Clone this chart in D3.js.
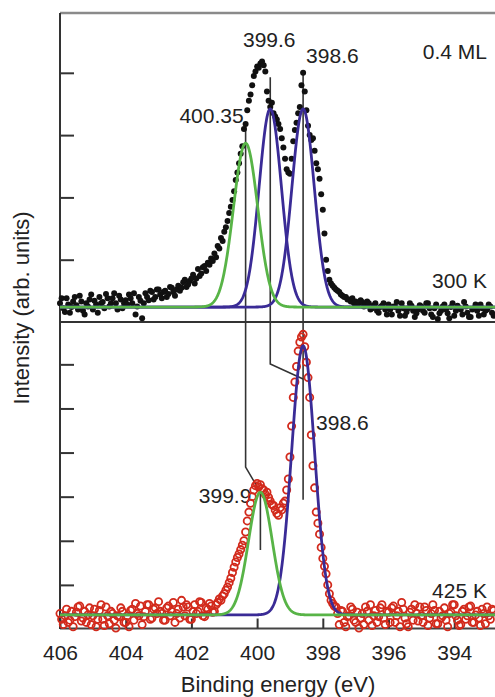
<!DOCTYPE html>
<html>
<head>
<meta charset="utf-8">
<script src="https://cdn.jsdelivr.net/npm/d3@7"></script>
<style>
  html, body { margin: 0; padding: 0; background: #fff; }
  svg { display: block; }
  text { font-family: "Liberation Sans", Arial, sans-serif; fill: #222; }
</style>
</head>
<body>
<script>
// N 1s photoemission spectra, energy grid 406.00 -> 392.80 eV in 0.05 eV steps
const energyStart = 406.0;
const energyStep = 0.05;

// 300 K spectrum (intensity, arb. units), one row per eV
const spectrum300K = [
  0.30, 0.38, 0.22, 0.16, 0.38, 0.28, 0.15, 0.24, 0.33, 0.40, 0.27, 0.20, 0.42, 0.33, 0.18, 0.12, 0.30, 0.25, 0.36, 0.44, // 406
  0.20, 0.34, 0.28, 0.15, 0.40, 0.30, 0.32, 0.22, 0.45, 0.38, 0.25, 0.30, 0.38, 0.46, 0.30, 0.20, 0.42, 0.36, 0.22, 0.30, // 405
  0.35, 0.28, 0.44, 0.38, 0.30, 0.46, 0.12, 0.25, 0.40, 0.34, 0.06, 0.30, 0.46, 0.40, 0.35, 0.50, 0.48, 0.36, 0.40, 0.52, // 404
  0.52, 0.44, 0.38, 0.48, 0.50, 0.40, 0.45, 0.56, 0.55, 0.48, 0.42, 0.52, 0.58, 0.50, 0.55, 0.64, 0.68, 0.56, 0.60, 0.66, // 403
  0.70, 0.76, 0.62, 0.70, 0.85, 0.74, 0.78, 0.88, 0.90, 0.82, 0.95, 0.92, 1.02, 0.98, 1.10, 1.04, 1.22, 1.18, 1.35, 1.30, // 402
  1.45, 1.52, 1.62, 1.75, 1.85, 1.96, 2.10, 2.28, 2.40, 2.55, 2.70, 2.82, 3.10, 3.18, 3.40, 3.55, 3.65, 3.80, 3.95, 4.02, // 401
  4.10, 4.08, 4.15, 4.18, 4.12, 4.02, 3.70, 3.55, 3.45, 3.52, 3.35, 3.30, 3.25, 3.18, 3.10, 2.95, 2.80, 2.62, 2.45, 2.40, // 400
  2.38, 2.62, 2.90, 3.08, 3.20, 3.35, 3.45, 3.80, 4.00, 3.70, 3.40, 3.15, 3.00, 2.92, 2.95, 2.75, 2.55, 2.45, 2.30, 2.05, // 399
  1.80, 1.42, 1.00, 0.82, 0.68, 0.62, 0.58, 0.55, 0.52, 0.50, 0.48, 0.44, 0.42, 0.40, 0.40, 0.36, 0.36, 0.33, 0.38, 0.30, // 398
  0.33, 0.28, 0.30, 0.35, 0.32, 0.25, 0.28, 0.33, 0.30, 0.20, 0.22, 0.27, 0.30, 0.18, 0.15, 0.24, 0.26, 0.30, 0.20, 0.12, // 397
  0.28, 0.20, 0.12, 0.25, 0.24, 0.32, 0.18, 0.10, 0.30, 0.22, 0.10, 0.16, 0.22, 0.30, 0.26, 0.18, 0.08, 0.14, 0.20, 0.27, // 396
  0.25, 0.18, 0.15, 0.30, 0.30, 0.22, 0.12, 0.08, 0.22, 0.28, 0.05, 0.14, 0.18, 0.25, 0.28, 0.20, 0.14, 0.06, 0.24, 0.30, // 395
  0.10, 0.18, 0.26, 0.22, 0.20, 0.12, 0.32, 0.25, 0.15, 0.08, 0.08, 0.20, 0.22, 0.28, 0.18, 0.10, 0.28, 0.22, 0.12, 0.18, // 394
  0.20, 0.28, 0.25, 0.15, 0.10                                                                                            // 393
];

// 425 K spectrum (intensity, arb. units), one row per eV
const spectrum425K = [
  0.35, 0.22, 0.10, 0.30, 0.45, 0.15, 0.20, 0.40, 0.05, 0.28, 0.38, 0.50, 0.52, 0.18, 0.25, 0.40, 0.15, 0.32, 0.48, 0.10, // 406
  0.30, 0.45, 0.05, 0.22, 0.42, 0.55, 0.22, 0.08, 0.50, 0.30, 0.12, 0.40, 0.35, 0.20, 0.02, 0.30, 0.28, 0.48, 0.40, 0.15, // 405
  0.15, 0.30, 0.05, 0.42, 0.45, 0.20, 0.58, 0.35, 0.30, 0.52, 0.10, 0.28, 0.40, 0.55, 0.55, 0.22, 0.25, 0.45, 0.48, 0.35, // 404
  0.62, 0.40, 0.35, 0.20, 0.20, 0.48, 0.52, 0.30, 0.40, 0.60, 0.15, 0.35, 0.45, 0.25, 0.65, 0.50, 0.30, 0.55, 0.50, 0.22, // 403
  0.22, 0.40, 0.55, 0.35, 0.40, 0.62, 0.60, 0.30, 0.28, 0.48, 0.45, 0.58, 0.52, 0.38, 0.40, 0.55, 0.60, 0.68, 0.65, 0.75, // 402
  0.80, 0.88, 0.95, 1.05, 1.15, 1.28, 1.40, 1.52, 1.62, 1.70, 1.80, 1.90, 2.00, 2.20, 2.45, 2.65, 2.85, 3.00, 3.15, 3.25, // 401
  3.30, 3.22, 3.27, 3.18, 3.15, 3.05, 3.10, 2.98, 2.90, 2.82, 2.80, 2.70, 2.62, 2.58, 2.75, 2.70, 2.85, 2.90, 3.15, 3.40, // 400
  3.90, 4.60, 5.25, 5.60, 5.95, 6.30, 6.50, 6.62, 6.68, 6.40, 6.05, 5.70, 5.25, 4.40, 3.70, 3.20, 2.65, 2.40, 2.15, 1.85, // 399
  1.60, 1.42, 1.25, 1.00, 0.80, 0.65, 0.58, 0.52, 0.50, 0.35, 0.10, 0.42, 0.40, 0.15, 0.05, 0.28, 0.30, 0.50, 0.45, 0.20, // 398
  0.15, 0.38, 0.02, 0.25, 0.35, 0.10, 0.50, 0.40, 0.20, 0.55, 0.08, 0.30, 0.42, 0.15, 0.28, 0.48, 0.55, 0.25, 0.10, 0.40, // 397
  0.38, 0.15, 0.48, 0.52, 0.15, 0.30, 0.40, 0.05, 0.60, 0.45, 0.25, 0.12, 0.05, 0.38, 0.45, 0.20, 0.55, 0.35, 0.18, 0.50, // 396
  0.30, 0.15, 0.50, 0.42, 0.08, 0.25, 0.35, 0.55, 0.42, 0.12, 0.12, 0.40, 0.25, 0.30, 0.48, 0.20, 0.05, 0.35, 0.38, 0.55, // 395
  0.55, 0.30, 0.20, 0.08, 0.10, 0.40, 0.45, 0.22, 0.30, 0.50, 0.52, 0.15, 0.15, 0.32, 0.40, 0.25, 0.08, 0.45, 0.35, 0.12, // 394
  0.50, 0.30, 0.22, 0.45, 0.42                                                                                            // 393
];

// Gaussian fit components: centre (eV), height above background, sigma (eV), group
const background300K = 0.24;
const fitCenters300K = [400.35, 399.6, 398.6];
const fitHeights300K = [2.63, 3.18, 3.18];
const fitSigmas300K = [0.37, 0.34, 0.34];
const fitGroups300K = [0, 1, 1];

const background425K = 0.32;
const fitCenters425K = [399.9, 398.6];
const fitHeights425K = [2.78, 6.10];
const fitSigmas425K = [0.36, 0.35];
const fitGroups425K = [0, 1];

const xTicks = [406, 404, 402, 400, 398, 396, 394];
const yTicksTop = [1, 2, 3, 4];
const yTicksBottom = [1, 2, 3, 4, 5, 6];

// ---------------------------------------------------------------
const W = 495, H = 697;
const groupColors = ["#58b447", "#3a2b96"];

const x = d3.scaleLinear().domain([406, 392.5]).range([60, 503.5]);
const yTop = d3.scaleLinear().domain([0, 4.96]).range([322, 13]);
const yBot = d3.scaleLinear().domain([0, 6.96]).range([629, 322]);
const yOf = p => (p === "top" ? yTop : yBot);

const svg = d3.select("body").append("svg")
  .attr("width", W).attr("height", H)
  .attr("viewBox", `0 0 ${W} ${H}`);

const energies = spectrum300K.map((_, i) => +(energyStart - i * energyStep).toFixed(2));

// frame
svg.append("line").attr("x1", 60).attr("x2", W).attr("y1", yTop(4.96)).attr("y2", yTop(4.96))
  .attr("stroke", "#8a8a8a").attr("stroke-width", 2.5);
svg.append("line").attr("x1", 60).attr("x2", W).attr("y1", yTop(0)).attr("y2", yTop(0))
  .attr("stroke", "#333").attr("stroke-width", 2);
svg.append("line").attr("x1", 60).attr("x2", W).attr("y1", yBot(0) - 0.5).attr("y2", yBot(0) - 0.5)
  .attr("stroke", "#444").attr("stroke-width", 2);
svg.append("line").attr("x1", 60).attr("x2", 60).attr("y1", yTop(4.96)).attr("y2", yBot(0))
  .attr("stroke", "#333").attr("stroke-width", 2);

// axes (inward ticks)
function styleAxis(g) {
  g.select(".domain").remove();
  g.selectAll(".tick line").attr("stroke", "#333").attr("stroke-width", 2);
}
svg.append("g").attr("transform", "translate(60,0)")
  .call(d3.axisLeft(yTop).tickValues(yTicksTop).tickSize(-14).tickFormat(""))
  .call(styleAxis);
svg.append("g").attr("transform", "translate(60,0)")
  .call(d3.axisLeft(yBot).tickValues(yTicksBottom).tickSize(-14).tickFormat(""))
  .call(styleAxis);
const xAxisG = svg.append("g").attr("transform", `translate(0,${yBot(0) - 0.5})`)
  .call(d3.axisBottom(x).tickValues(xTicks).tickSize(-10).tickPadding(17).tickFormat(d3.format("d")))
  .call(styleAxis);
xAxisG.selectAll(".tick text")
  .attr("font-size", 21).attr("fill", "#222")
  .style("font-family", '"Liberation Sans", Arial, sans-serif');

// axis titles
svg.append("text").attr("x", 278).attr("y", 692).attr("text-anchor", "middle")
  .attr("font-size", 22).text("Binding energy (eV)");
svg.append("text").attr("transform", "translate(29,308) rotate(-90)").attr("text-anchor", "middle")
  .attr("font-size", 22).text("Intensity (arb. units)");

// guide lines linking peak positions
const guides = [
  [{e: 400.35, p: "top", v: 3.21}, {e: 400.35, p: "bot", v: 3.67}, {e: 399.9, p: "bot", v: 3.10}, {e: 399.9, p: "bot", v: 1.79}],
  [{e: 399.6, p: "top", v: 3.93}, {e: 399.6, p: "bot", v: 6.01}, {e: 398.6, p: "bot", v: 5.67}],
  [{e: 398.6, p: "top", v: 4.04}, {e: 398.6, p: "bot", v: 2.93}]
];
const guideLine = d3.line().x(d => x(d.e)).y(d => yOf(d.p)(d.v));
svg.append("g").selectAll("path").data(guides).join("path")
  .attr("d", guideLine).attr("fill", "none").attr("stroke", "#333").attr("stroke-width", 1.6);

// peak labels
const peakLabels = [
  {e: fitCenters300K[1], p: "top", v: 4.41, anchor: "middle", dx: -1},
  {e: fitCenters300K[2], p: "top", v: 4.16, anchor: "start", dx: 3},
  {e: fitCenters300K[0], p: "top", v: 3.19, anchor: "end", dx: -2},
  {e: fitCenters425K[1], p: "bot", v: 4.51, anchor: "start", dx: 13},
  {e: fitCenters425K[0], p: "bot", v: 2.86, anchor: "end", dx: -9}
];
svg.append("g").selectAll("text").data(peakLabels).join("text")
  .attr("x", d => x(d.e) + d.dx).attr("y", d => yOf(d.p)(d.v))
  .attr("text-anchor", d => d.anchor).attr("font-size", 21)
  .text(d => String(d.e));

// condition labels
const condLabels = [
  {t: "0.4 ML", p: "top", v: 4.22},
  {t: "300 K", p: "top", v: 0.55},
  {t: "425 K", p: "bot", v: 0.70}
];
svg.append("g").selectAll("text").data(condLabels).join("text")
  .attr("x", 487).attr("y", d => yOf(d.p)(d.v))
  .attr("text-anchor", "end").attr("font-size", 21).text(d => d.t);

// data points
svg.append("g").selectAll("circle").data(spectrum300K).join("circle")
  .attr("cx", (d, i) => x(energies[i])).attr("cy", d => yTop(d)).attr("r", 3.0)
  .attr("fill", "#111");
svg.append("g").selectAll("circle").data(spectrum425K).join("circle")
  .attr("cx", (d, i) => x(energies[i])).attr("cy", d => yBot(d)).attr("r", 3.6)
  .attr("fill", "none").attr("stroke", "#d22a1c").attr("stroke-width", 1.8);

// fit components
const grid = d3.range(0, 1351).map(i => 406 - i * 0.01);
function drawComponents(centers, heights, sigmas, groups, bg, y) {
  const comps = centers.map((c, k) => ({c, h: heights[k], s: sigmas[k], g: groups[k]}));
  // purple group underneath, green on top
  comps.sort((a, b) => b.g - a.g);
  const line = d3.line().x(d => x(d[0])).y(d => y(d[1]));
  svg.append("g").selectAll("path").data(comps).join("path")
    .attr("d", comp => line(grid.map(e => [e, bg + comp.h * Math.exp(-((e - comp.c) ** 2) / (2 * comp.s * comp.s))])))
    .attr("fill", "none").attr("stroke", comp => groupColors[comp.g])
    .attr("stroke-width", 2.8).attr("stroke-linejoin", "round");
}
drawComponents(fitCenters300K, fitHeights300K, fitSigmas300K, fitGroups300K, background300K, yTop);
drawComponents(fitCenters425K, fitHeights425K, fitSigmas425K, fitGroups425K, background425K, yBot);
</script>
</body>
</html>
